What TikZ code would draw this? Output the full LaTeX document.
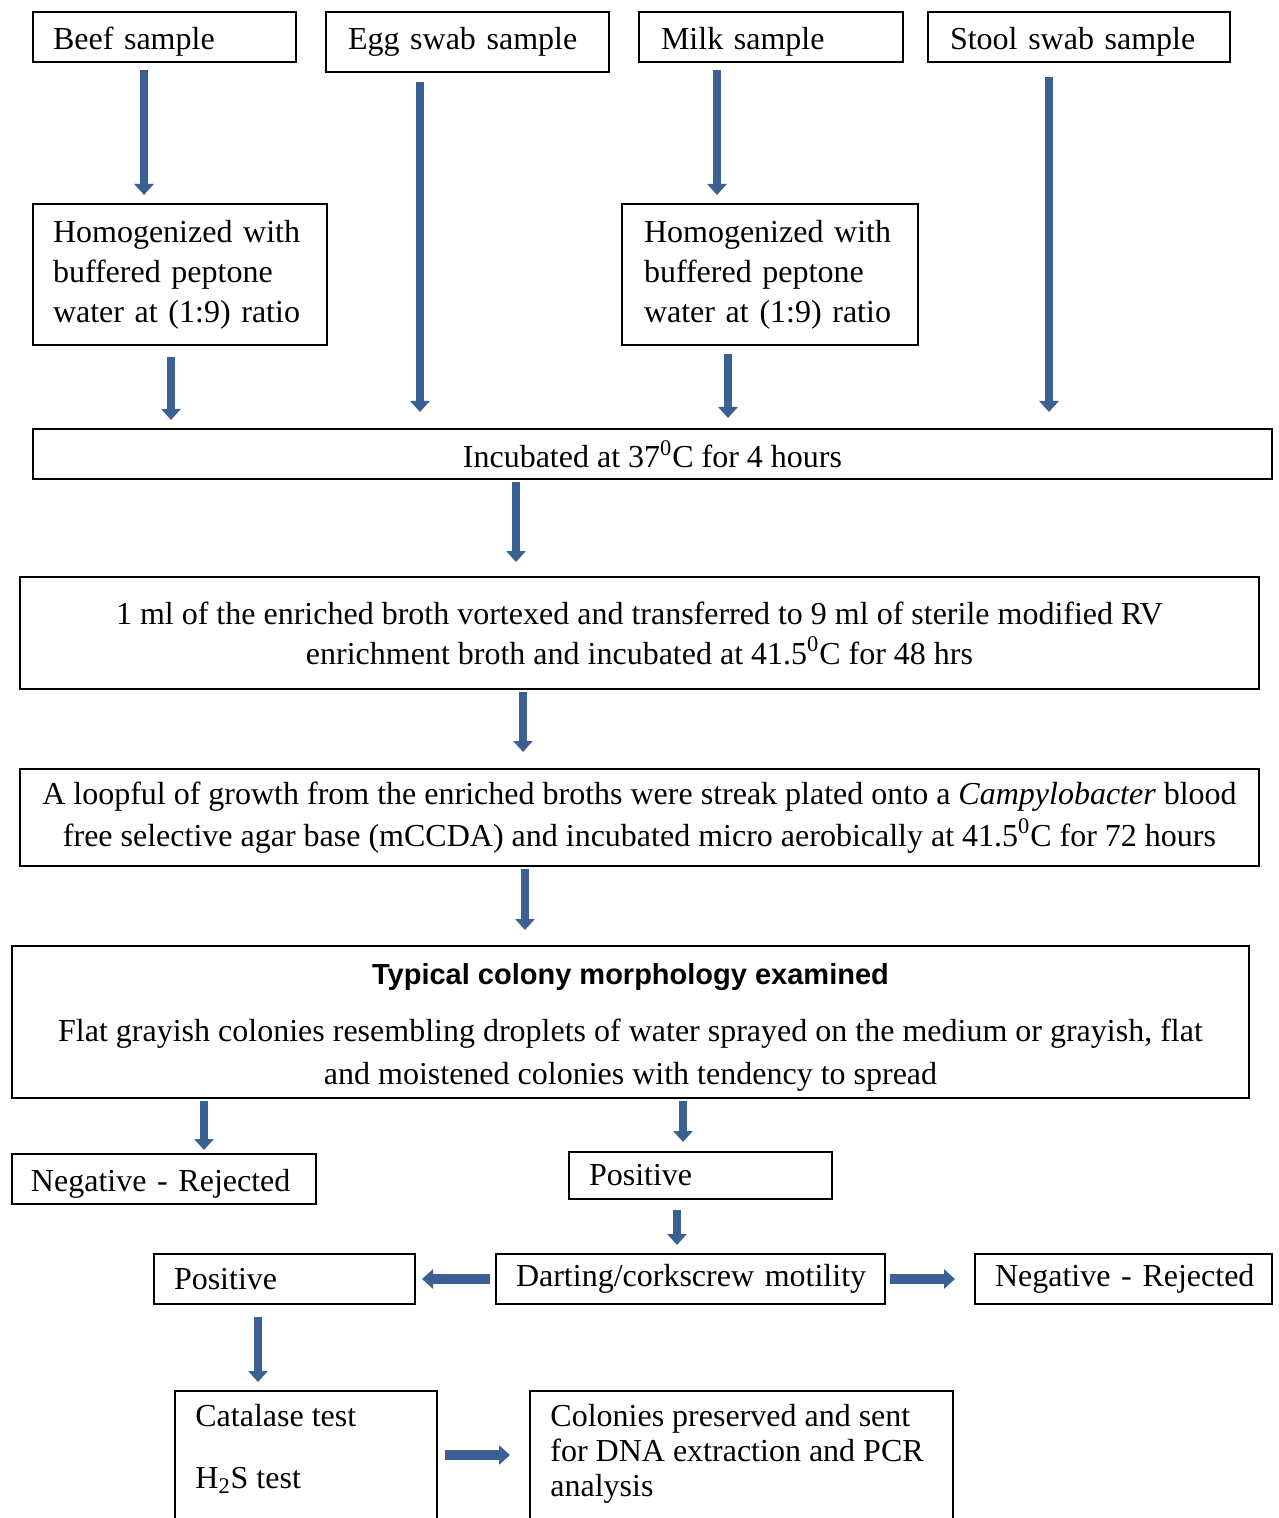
\documentclass[tikz,border=0pt]{standalone}
\usepackage{fontspec}
\IfFontExistsTF{LiberationSerif-Regular.ttf}{%
  \setmainfont{LiberationSerif}[Extension=.ttf, UprightFont=*-Regular, BoldFont=*-Bold, ItalicFont=*-Italic, BoldItalicFont=*-BoldItalic]}{%
  \setmainfont{Liberation Serif}}
\IfFontExistsTF{LiberationSans-Regular.ttf}{%
  \setsansfont{LiberationSans}[Extension=.ttf, UprightFont=*-Regular, BoldFont=*-Bold, ItalicFont=*-Italic, BoldItalicFont=*-BoldItalic]}{%
  \setsansfont{Liberation Sans}}
\usetikzlibrary{arrows.meta,calc}
\definecolor{arrowblue}{RGB}{60,96,146}
\begin{document}
\begin{tikzpicture}[x=0.5pt,y=-0.5pt,
  box/.style={draw, line width=1pt, anchor=north west, inner sep=0pt, font=\rmfamily\fontsize{16}{20}\selectfont},
  lbox/.style={box, align=left},
  low/.style={text height=16pt, text depth=3.5pt},
  txt/.style={anchor=north west, inner sep=0pt, align=left},
  arr/.style={arrowblue, line width=4pt, -{Triangle[length=5.5pt,width=9.5pt]}},
  harr/.style={arr, line width=5pt}]
\fill[white] (0,0) rectangle (1278,1518);
\useasboundingbox (0,0) rectangle (1278,1518);
\clip (0,0) rectangle (1278,1518);

% sample boxes
\node[lbox, low, minimum width=131.5pt, minimum height=25pt, text width=111.5pt] (beef) at (32,11) {\mbox{Beef sample}};
\node[lbox, minimum width=141.5pt, minimum height=30pt, text width=119.5pt] (egg) at (325,11) {\mbox{Egg swab sample}};
\node[lbox, low, minimum width=132pt, minimum height=25pt, text width=110pt] (milk) at (638,11) {\mbox{Milk sample}};
\node[lbox, low, minimum width=151pt, minimum height=25pt, text width=129pt] (stool) at (927,11) {\mbox{Stool swab sample}};

\node[lbox, minimum width=147pt, minimum height=70.5pt, text width=127pt] (hom1) at (32,203) {\mbox{Homogenized with}\\ \mbox{buffered peptone}\\ \mbox{water at (1:9) ratio}};
\node[lbox, minimum width=148pt, minimum height=70.5pt, text width=126pt] (hom2) at (621,203) {\mbox{Homogenized with}\\ \mbox{buffered peptone}\\ \mbox{water at (1:9) ratio}};

\node[box, minimum width=619.5pt, minimum height=25pt, align=center] (inc) at (32,428) {Incubated at 37\textsuperscript{0}C for 4 hours};
\node[box, minimum width=619.5pt, minimum height=56pt, align=center] (ml) at (19,576) {1 ml of the enriched broth vortexed and transferred to 9 ml of sterile modified RV\\ enrichment broth and incubated at 41.5\textsuperscript{0}C for 48 hrs};
\node[box, minimum width=619.5pt, minimum height=48.5pt, align=center, font=\rmfamily\fontsize{16}{21}\selectfont] (loop) at (19,768) {A loopful of growth from the enriched broths were streak plated onto a \textit{Campylobacter} blood\\ free selective agar base (mCCDA) and incubated micro aerobically at 41.5\textsuperscript{0}C for 72 hours};
\node[box, minimum width=618.5pt, minimum height=76pt, align=center, font=\rmfamily\fontsize{16}{21.5}\selectfont] (typ) at (11,945) {\rule{0pt}{16pt}{\sffamily\bfseries\fontsize{14.5}{18}\selectfont Typical colony morphology examined}\\[7pt] Flat grayish colonies resembling droplets of water sprayed on the medium or grayish, flat\\ and moistened colonies with tendency to spread};

\node[lbox, low, minimum width=152pt, minimum height=25pt, text width=133pt] (negL) at (11,1153) {\mbox{Negative - Rejected}};
\node[lbox, minimum width=131.5pt, minimum height=23.5pt, text width=111.5pt] (posM) at (568,1151) {\mbox{Positive}};
\node[lbox, minimum width=130.5pt, minimum height=25pt, text width=110.5pt] (posL) at (153,1253) {\mbox{Positive}};
\node[lbox, minimum width=194.5pt, minimum height=25pt, text width=174.5pt] (dart) at (495,1253) {\mbox{Darting/corkscrew motility}};
\node[lbox, minimum width=148.5pt, minimum height=25pt, text width=128.5pt] (negR) at (974,1253) {\mbox{Negative - Rejected}};

\node[box, minimum width=131pt, minimum height=85pt] (cat) at (174,1390) {};
\node[txt, font=\rmfamily\fontsize{16}{20}\selectfont] (catt) at (195,1404) {Catalase test\\[11pt] H\textsubscript{2}S test};
\node[box, minimum width=211.5pt, minimum height=85pt] (col) at (529,1390) {};
\node[txt, font=\rmfamily\fontsize{16}{17.5}\selectfont] (colt) at (550,1404) {Colonies preserved and sent\\ for DNA extraction and PCR\\ analysis};

% arrows
\draw[arr] ($(beef.south)+(-20.5,7)$) -- ($(hom1.north)+(-36,-8)$);
\draw[arr] ($(egg.south)+(-47.5,9)$) -- ($(inc.north)+(-232.5,-16)$);
\draw[arr] ($(milk.south)+(-54,7)$) -- ($(hom2.north)+(-53,-8)$);
\draw[arr] ($(stool.south)+(-30,14)$) -- ($(inc.north)+(396.5,-16)$);
\draw[arr] ($(hom1.south)+(-9,11)$) -- ($(inc.north)+(-481.5,-8)$);
\draw[arr] ($(hom2.south)+(-42,8)$) -- ($(inc.north)+(75.5,-10)$);
\draw[arr] ($(inc.south)+(-136.5,2)$) -- ($(ml.north)+(-123.5,-14)$);
\draw[arr] ($(ml.south)+(-116.5,2)$) -- ($(loop.north)+(-116.5,-16)$);
\draw[arr] ($(loop.south)+(-114.5,2)$) -- ($(typ.north)+(-105.5,-15)$);
\draw[arr] ($(typ.south)+(-426.5,2)$) -- ($(negL.north)+(40,-3)$);
\draw[arr] ($(typ.south)+(52.5,2)$) -- ($(posM.north)+(-17.5,-9)$);
\draw[arr] ($(posM.south)+(-23.5,10)$) -- ($(dart.north)+(-13.5,-8)$);
\draw[harr] ($(dart.west)+(-5,0)$) -- ($(posL.east)+(6,0)$);
\draw[harr] ($(dart.east)+(4,0)$) -- ($(negR.west)+(-19,0)$);
\draw[arr] ($(posL.south)+(-26.5,12)$) -- ($(cat.north)+(-48,-8)$);
\draw[harr] ($(cat.north east)+(7,65)$) -- ($(col.north west)+(-19,65)$);
\end{tikzpicture}
\end{document}
